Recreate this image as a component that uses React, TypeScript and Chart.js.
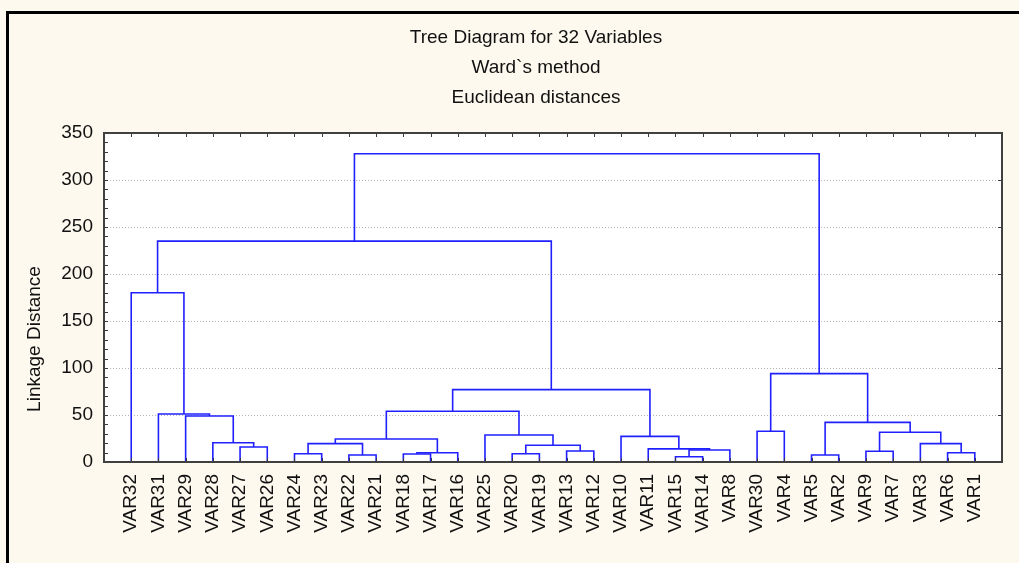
import React, { useEffect, useRef } from "react";
import { Chart, registerables } from "chart.js";

Chart.register(...registerables);

const titleLines = ["Tree Diagram for 32 Variables", "Ward`s method", "Euclidean distances"];
const yAxisTitle = "Linkage Distance";

// leaves, in dendrogram order (left to right)
const leafLabels = [
  "VAR32", "VAR31", "VAR29", "VAR28", "VAR27", "VAR26", "VAR24", "VAR23",
  "VAR22", "VAR21", "VAR18", "VAR17", "VAR16", "VAR25", "VAR20", "VAR19",
  "VAR13", "VAR12", "VAR10", "VAR11", "VAR15", "VAR14", "VAR8", "VAR30",
  "VAR4", "VAR5", "VAR2", "VAR9", "VAR7", "VAR3", "VAR6", "VAR1",
];

// merges: "#k" refers to the cluster created by merge k
const mergeLeft = [
  "VAR15", "VAR5", "VAR22", "VAR18", "VAR24", "VAR20", "#3", "VAR6",
  "VAR9", "VAR13", "#0", "VAR11", "VAR27", "#5", "#4", "VAR3",
  "VAR28", "#14", "VAR10", "VAR25", "#8", "VAR30", "#1", "VAR29",
  "VAR31", "#17", "#25", "#21", "VAR32", "#28", "#29",
];
const mergeRight = [
  "VAR14", "VAR2", "VAR21", "VAR17", "VAR23", "VAR19", "VAR16", "VAR1",
  "VAR7", "VAR12", "VAR8", "#10", "VAR26", "#9", "#2", "#7",
  "#12", "#6", "#11", "#13", "#15", "VAR4", "#20", "#16",
  "#23", "#19", "#18", "#22", "#24", "#26", "#27",
];
const mergeHeight = [
  5.6, 7.4, 7.4, 8.5, 8.8, 8.8, 9.9, 9.9,
  11.4, 11.7, 12.8, 14.0, 16.0, 17.8, 19.5, 19.5,
  20.5, 24.5, 27.3, 28.7, 31.6, 32.7, 42.2, 48.9,
  51.1, 54.0, 77.0, 94.0, 180.0, 235.0, 328.0,
];

const yMin = 0;
const yMax = 350;
const yStep = 50;
const yMinorStep = 10;

const FONT = '"Liberation Sans", Arial, Helvetica, sans-serif';
const LINE_COLOR = "#2020ff";

function buildSegments() {
  const mergeX: number[] = [];
  const node = (ref: string) => {
    if (ref.startsWith("#")) {
      const k = Number(ref.slice(1));
      return { x: mergeX[k], y: mergeHeight[k] };
    }
    return { x: leafLabels.indexOf(ref) + 1, y: 0 };
  };
  const segs: { x: number; y: number }[][] = [];
  mergeLeft.forEach((l, k) => {
    const a = node(l);
    const b = node(mergeRight[k]);
    const h = mergeHeight[k];
    mergeX[k] = (a.x + b.x) / 2;
    segs.push([a, { x: a.x, y: h }, { x: b.x, y: h }, b]);
  });
  return segs;
}

const framePlugin = {
  id: "statFrame",
  beforeDraw(chart: any) {
    const { ctx, chartArea: a } = chart;
    ctx.save();
    ctx.fillStyle = "#ffffff";
    ctx.fillRect(a.left, a.top, a.right - a.left, a.bottom - a.top);
    ctx.restore();
  },
  afterDraw(chart: any) {
    const { ctx, chartArea: a, scales } = chart;
    const x = scales.x;
    const y = scales.y;
    ctx.save();
    ctx.strokeStyle = "#3a3a3a";
    ctx.lineWidth = 1;
    ctx.beginPath();
    for (let v = yMin; v <= yMax; v += yMinorStep) {
      const py = Math.round(y.getPixelForValue(v)) + 0.5;
      ctx.moveTo(a.left, py);
      ctx.lineTo(a.left + 4, py);
    }
    for (let v = yMin; v <= yMax; v += yStep) {
      const py = Math.round(y.getPixelForValue(v)) + 0.5;
      ctx.moveTo(a.right, py);
      ctx.lineTo(a.right - 4, py);
    }
    for (let i = 1; i <= leafLabels.length; i++) {
      const px = Math.round(x.getPixelForValue(i)) + 0.5;
      ctx.moveTo(px, a.top);
      ctx.lineTo(px, a.top + 4);
      ctx.moveTo(px, a.bottom);
      ctx.lineTo(px, a.bottom - 4);
    }
    ctx.stroke();
    ctx.lineWidth = 2;
    ctx.strokeStyle = "#404040";
    ctx.strokeRect(a.left, a.top, a.right - a.left, a.bottom - a.top);

    ctx.fillStyle = "#111111";
    ctx.font = `19px ${FONT}`;
    ctx.textAlign = "center";
    ctx.textBaseline = "middle";
    ctx.translate(35, a.bottom - 123);
    ctx.rotate(-Math.PI / 2);
    ctx.fillText(yAxisTitle, 0, 0);
    ctx.restore();
  },
};

export default function App() {
  const canvasRef = useRef<HTMLCanvasElement | null>(null);

  useEffect(() => {
    const canvas = canvasRef.current;
    if (!canvas) return;
    const segs = buildSegments();
    const chart = new Chart(canvas, {
      type: "scatter",
      data: {
        datasets: segs.map((s) => ({
          data: s,
          showLine: true,
          borderColor: LINE_COLOR,
          borderWidth: 1.6,
          pointRadius: 0,
          pointHoverRadius: 0,
          fill: false,
          tension: 0,
        })),
      },
      options: {
        responsive: false,
        maintainAspectRatio: false,
        animation: false,
        devicePixelRatio: 1,
        layout: { padding: { left: 8, right: 0, top: 0, bottom: 0 } },
        plugins: {
          legend: { display: false },
          tooltip: { enabled: false },
          title: {
            display: true,
            text: titleLines,
            color: "#111111",
            font: { family: FONT, size: 19, weight: "normal", lineHeight: 30 / 19 },
            padding: { top: 23, bottom: 20 },
          },
        },
        scales: {
          x: {
            type: "linear",
            min: 0,
            max: leafLabels.length + 1,
            afterBuildTicks: (scale: any) => {
              scale.ticks = leafLabels.map((_, i) => ({ value: i + 1 }));
            },
            afterFit: (scale: any) => {
              scale.height = 101;
            },
            grid: { display: false, drawTicks: false },
            border: { display: false },
            ticks: {
              autoSkip: false,
              maxRotation: 90,
              minRotation: 90,
              padding: 12,
              color: "#111111",
              font: { family: FONT, size: 19 },
              callback: (v: any) => leafLabels[Number(v) - 1] ?? "",
            },
          },
          y: {
            type: "linear",
            min: yMin,
            max: yMax,
            afterFit: (scale: any) => {
              scale.width = 96;
            },
            grid: {
              drawTicks: false,
              lineWidth: 1,
              color: (c: any) =>
                c.tick && (c.tick.value === yMin || c.tick.value === yMax) ? "rgba(0,0,0,0)" : "#b4b4b4",
            },
            border: { display: false, dash: [1, 2] },
            ticks: {
              stepSize: yStep,
              padding: 11,
              color: "#111111",
              font: { family: FONT, size: 19 },
            },
          },
          yRightSpace: {
            type: "linear",
            position: "right",
            display: true,
            afterFit: (scale: any) => {
              scale.width = 62;
            },
            grid: { display: false, drawTicks: false },
            border: { display: false },
            ticks: { display: false },
          },
        },
      },
      plugins: [framePlugin],
    });
    return () => chart.destroy();
  }, []);

  return (
    <div
      style={{
        position: "fixed",
        left: 0,
        top: 0,
        width: 1019,
        height: 563,
        background: "#fdf9ee",
        overflow: "hidden",
      }}
    >
      <canvas
        ref={canvasRef}
        width={1064}
        height={563}
        style={{ position: "absolute", left: 0, top: 0, width: 1064, height: 563 }}
      />
      <div
        style={{
          position: "absolute",
          left: 6,
          top: 11,
          right: 0,
          bottom: 0,
          borderTop: "3px solid #000",
          borderLeft: "3px solid #000",
          pointerEvents: "none",
        }}
      />
    </div>
  );
}
